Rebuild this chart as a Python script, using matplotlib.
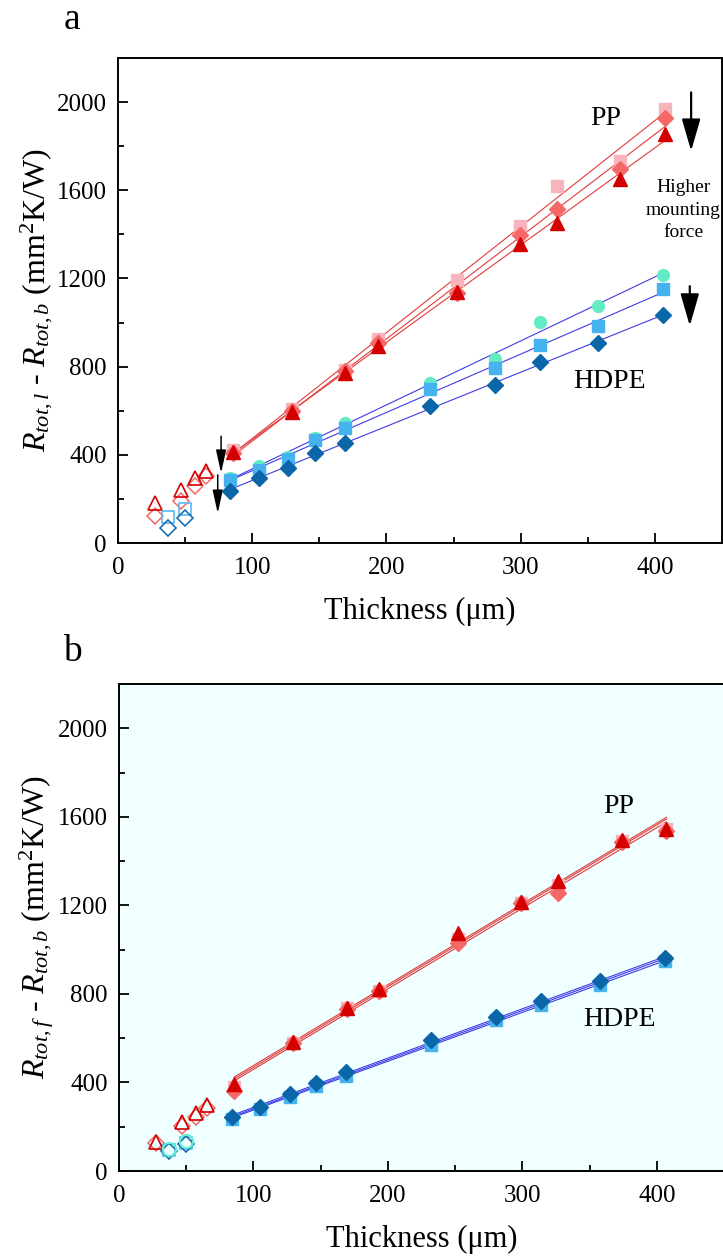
import numpy as np
import matplotlib
matplotlib.use("Agg")
import matplotlib.pyplot as plt

plt.rcParams['font.family'] = ['Liberation Serif', 'DejaVu Serif']
plt.rcParams['mathtext.fontset'] = 'custom'
plt.rcParams['mathtext.rm'] = 'Liberation Serif'
plt.rcParams['mathtext.it'] = 'Liberation Serif:italic'

# thickness (um) of the samples
pp_x = [85.7, 129.4, 169.4, 193.6, 252.3, 299.3, 326.9, 373.8, 407.2]
hdpe_x = [83.7, 104.7, 126.9, 146.7, 168.9, 232.4, 280.7, 314.1, 357.8, 406.4]
pp_open_x = [27.6, 47.2, 57.5, 65.2]
hdpe_open_x = [37.0, 49.9]

# panel a, R_tot,l - R_tot,b
pp_a_sq = [420, 610, 785, 926, 1195, 1438, 1620, 1733, 1968]
pp_a_di = [410, 600, 780, 905, 1132, 1395, 1514, 1698, 1930]
pp_a_tr = [415, 592, 771, 892, 1140, 1358, 1453, 1650, 1855]
hd_a_ci = [295, 350, 392, 475, 544, 726, 835, 1001, 1077, 1214]
hd_a_sq = [286, 330, 380, 468, 521, 699, 794, 897, 983, 1153]
hd_a_di = [238, 297, 339, 408, 453, 623, 717, 821, 905, 1036]
pp_a_open_tr = [180, 241, 297, 327]
pp_a_open_di = [124, 192, 260, 305]
hd_a_open_sq = [117, 154]
hd_a_open_di = [70, 112]

# panel b, R_tot,f - R_tot,b
pp_b_sq = [380, 580, 735, 815, 1050, 1212, 1290, 1490, 1545]
pp_b_di = [363, 577, 730, 812, 1031, 1210, 1256, 1485, 1536]
pp_b_tr = [391, 584, 737, 820, 1073, 1216, 1309, 1494, 1547]
hd_b_ci = [240, 282, 340, 392, 436, 580, 687, 760, 848, 955]
hd_b_sq = [237, 278, 335, 385, 428, 570, 680, 750, 838, 948]
hd_b_di = [245, 287, 346, 399, 445, 591, 694, 769, 858, 960]
pp_b_open_tr = [132, 223, 260, 298]
pp_b_open_di = [125, 205, 245, 285]
hd_b_open_sq = [95, 128]
hd_b_open_di = [90, 120]
hd_b_open_ci = [98, 135]

c_tri = '#d40000'
c_di_r = '#f46868'
c_sq_r = '#f8b4bc'
c_di_b = '#0b66a8'
c_sq_b = '#47b2f0'
c_ci = '#62ecc4'
c_line_r = '#e23a3a'
c_line_b = '#3c3ce6'


def fit_line(ax, x, y, color):
    k, b = np.polyfit(x, y, 1)
    xx = np.array([min(x), max(x)])
    ax.plot(xx, k * xx + b, '-', color=color, lw=0.8, zorder=2)


def style_axes(ax, ylabel):
    ax.set_xlim(0, 450)
    ax.set_ylim(0, 2200)
    ax.set_xticks([0, 100, 200, 300, 400])
    ax.set_xticks([50, 150, 250, 350], minor=True)
    ax.set_yticks([0, 400, 800, 1200, 1600, 2000])
    ax.set_yticks([200, 600, 1000, 1400, 1800], minor=True)
    ax.tick_params(which='both', direction='in', labelsize=18, width=1.3)
    ax.tick_params(which='major', length=7, pad=8)
    ax.tick_params(which='minor', length=4)
    ax.tick_params(axis='x', which='major', pad=10)
    for s in ax.spines.values():
        s.set_linewidth(1.4)
    ax.set_xlabel('Thickness (\u03bcm)', fontsize=22, labelpad=13)
    ax.set_ylabel(ylabel, fontsize=23)
    ax.yaxis.set_label_coords(-0.104, 0.5)


def markers(ax, sq_r, di_r, tr, ci, sq_b, di_b):
    ax.plot(pp_x, sq_r, 's', color=c_sq_r, ms=8, zorder=3)
    ax.plot(pp_x, di_r, 'D', color=c_di_r, ms=8, zorder=4)
    ax.plot(pp_x, tr, '^', color=c_tri, ms=10, zorder=5)
    ax.plot(hdpe_x, ci, 'o', color=c_ci, ms=8.5, zorder=3)
    ax.plot(hdpe_x, sq_b, 's', color=c_sq_b, ms=8, zorder=4)
    ax.plot(hdpe_x, di_b, 'D', color=c_di_b, ms=8, zorder=5)


fig = plt.figure(figsize=(7.23, 12.59), dpi=100)

# ---- panel a ----
ax = fig.add_axes([118 / 723, 1 - 543 / 1259, 604 / 723, 485 / 1259])
for ys in (pp_a_sq, pp_a_di, pp_a_tr):
    fit_line(ax, pp_x, ys, c_line_r)
for ys in (hd_a_ci, hd_a_sq, hd_a_di):
    fit_line(ax, hdpe_x, ys, c_line_b)
markers(ax, pp_a_sq, pp_a_di, pp_a_tr, hd_a_ci, hd_a_sq, hd_a_di)
ax.plot(pp_open_x, pp_a_open_di, 'D', mfc='none', mec=c_di_r, mew=1.1, ms=8.5)
ax.plot(pp_open_x, pp_a_open_tr, '^', mfc='none', mec=c_tri, mew=1.2, ms=10)
ax.plot(hdpe_open_x, hd_a_open_sq, 's', mfc='none', mec='#5ab8ee', mew=1.2, ms=8.5)
ax.plot(hdpe_open_x, hd_a_open_di, 'D', mfc='none', mec='#1a70b0', mew=1.2, ms=8.5)

small = dict(arrowstyle='-|>,head_length=1.0,head_width=0.22', color='k',
             lw=1.1, mutation_scale=14, shrinkA=0, shrinkB=0)
big = dict(arrowstyle='-|>,head_length=0.9,head_width=0.26', color='k',
           lw=1.6, mutation_scale=22, shrinkA=0, shrinkB=0)
ax.annotate('', xy=(76.8, 317), xytext=(76.8, 484), arrowprops=small)
ax.annotate('', xy=(74.3, 135), xytext=(74.3, 309), arrowprops=small)
ax.annotate('', xy=(427, 1778), xytext=(427, 2044), arrowprops=big)
ax.annotate('', xy=(426, 985), xytext=(426, 1165), arrowprops=big)
ax.text(421, 1510, 'Higher\nmounting\nforce', ha='center', va='center',
        fontsize=14, linespacing=1.4)
ax.text(363, 1926, 'PP', ha='center', va='center', fontsize=20)
ax.text(366, 733, 'HDPE', ha='center', va='center', fontsize=20)
style_axes(ax, r'$R_{tot,l}$ - $R_{tot,b}$ (mm$^2$K/W)')
fig.text(72 / 723, 1 - 20 / 1259, 'a', fontsize=27, ha='center', va='center')

# ---- panel b ----
ax = fig.add_axes([119 / 723, 1 - 1171 / 1259, 605 / 723, 487 / 1259])
ax.set_facecolor('#f0ffff')
for ys in (pp_b_sq, pp_b_di, pp_b_tr):
    fit_line(ax, pp_x, ys, c_line_r)
for ys in (hd_b_ci, hd_b_sq, hd_b_di):
    fit_line(ax, hdpe_x, ys, c_line_b)
markers(ax, pp_b_sq, pp_b_di, pp_b_tr, hd_b_ci, hd_b_sq, hd_b_di)
ax.plot(pp_open_x, pp_b_open_di, 'D', mfc='none', mec=c_di_r, mew=1.1, ms=8.5)
ax.plot(pp_open_x, pp_b_open_tr, '^', mfc='none', mec=c_tri, mew=1.2, ms=10)
ax.plot(hdpe_open_x, hd_b_open_sq, 's', mfc='none', mec='#5ab8ee', mew=1.2, ms=8.5)
ax.plot(hdpe_open_x, hd_b_open_di, 'D', mfc='none', mec='#1a70b0', mew=1.2, ms=8.5)
ax.plot(hdpe_open_x, hd_b_open_ci, 'o', mfc='none', mec='#5ff0d8', mew=1.4, ms=9.5)
ax.text(372, 1645, 'PP', ha='center', va='center', fontsize=20)
ax.text(372, 685, 'HDPE', ha='center', va='center', fontsize=20)
style_axes(ax, r'$R_{tot,f}$ - $R_{tot,b}$ (mm$^2$K/W)')
fig.text(72 / 723, 1 - 652 / 1259, 'b', fontsize=27, ha='center', va='center')

fig.savefig('out.png', dpi=100)
